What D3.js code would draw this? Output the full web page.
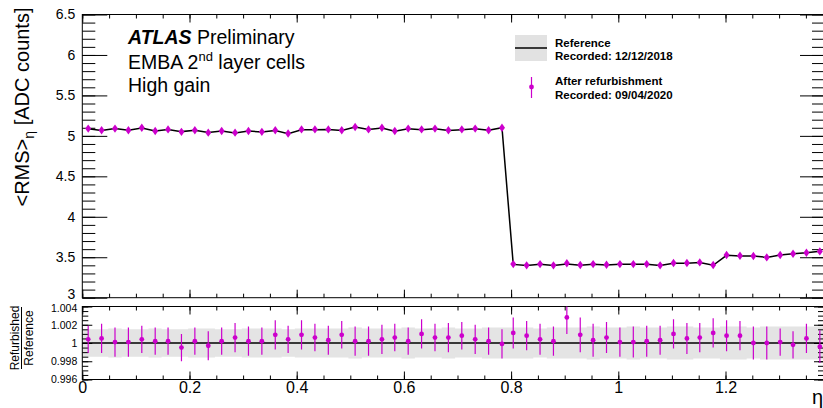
<!DOCTYPE html>
<html>
<head>
<meta charset="utf-8">
<script src="https://cdn.jsdelivr.net/npm/d3@7"></script>
<style>
  body { margin: 0; background: #fff; }
  text { font-family: "Liberation Sans", Arial, sans-serif; }
</style>
</head>
<body>
<svg id="chart" width="823" height="408"></svg>
<script>
// eta bin centres (EMBA 2nd layer)
var etaBins = [0.011,0.036,0.061,0.086,0.111,0.136,0.160,0.185,0.210,0.235,0.260,0.285,0.310,0.335,0.360,0.384,
  0.409,0.434,0.459,0.484,0.509,0.534,0.559,0.583,0.608,0.633,0.658,0.683,0.708,0.733,0.758,0.783,
  0.804,0.829,0.854,0.879,0.904,0.929,0.953,0.978,1.003,1.028,1.053,1.078,
  1.103,1.128,1.152,1.177,1.202,1.227,1.252,1.277,1.302,1.326,1.351,1.376];

// <RMS> after refurbishment (ADC counts)
var rmsAfter = [5.09,5.07,5.09,5.07,5.10,5.06,5.08,5.05,5.07,5.04,5.06,5.04,5.06,5.05,5.07,5.03,
  5.08,5.08,5.08,5.07,5.11,5.08,5.10,5.06,5.09,5.08,5.09,5.07,5.08,5.09,5.07,5.10,
  3.415,3.400,3.415,3.400,3.425,3.405,3.415,3.407,3.415,3.415,3.415,3.400,
  3.428,3.428,3.436,3.405,3.527,3.519,3.515,3.498,3.527,3.543,3.556,3.572];

// refurbished / reference
var ratio = [1.0004,1.0005,1.0001,1.0001,1.0004,1.0002,1.0002,0.9995,1.0002,0.9997,1.0002,1.0006,1.0002,1.0002,1.0009,1.0004,
  1.0009,1.0006,1.0003,1.0009,1.0002,1.0002,1.0004,1.0006,1.0002,1.0010,1.0006,1.0006,1.0008,1.0004,1.0002,0.9999,
  1.0011,1.0008,1.0004,1.0002,1.0028,1.0009,1.0003,1.0006,1.0001,1.0001,1.0002,1.0003,
  1.0010,1.0005,1.0006,1.0011,1.0008,1.0008,1.0000,1.0000,1.0001,0.9998,1.0005,0.9996];

var ratioErr = [0.0015,0.0016,0.0016,0.0016,0.0015,0.0015,0.0015,0.0015,0.0015,0.0016,0.0015,0.0016,0.0016,0.0015,0.0016,0.0015,
  0.0016,0.0015,0.0016,0.0015,0.0016,0.0016,0.0016,0.0015,0.0015,0.0016,0.0015,0.0016,0.0015,0.0016,0.0015,0.0016,
  0.0017,0.0016,0.0017,0.0016,0.0018,0.0019,0.0018,0.0017,0.0016,0.0017,0.0017,0.0016,
  0.0016,0.0017,0.0016,0.0016,0.0017,0.0016,0.0018,0.0018,0.0015,0.0015,0.0016,0.0018];

// relative uncertainty of the reference (grey band)
var refBand = [0.0015,0.0015,0.0016,0.0015,0.0015,0.0016,0.0015,0.0015,0.0016,0.0016,0.0015,0.0015,0.0016,0.0016,0.0016,0.0015,
  0.0016,0.0016,0.0016,0.0016,0.0017,0.0016,0.0016,0.0016,0.0017,0.0016,0.0016,0.0017,0.0016,0.0016,0.0017,0.0017,
  0.0017,0.0017,0.0016,0.0017,0.0017,0.0017,0.0018,0.0017,0.0017,0.0018,0.0017,0.0017,
  0.0018,0.0018,0.0017,0.0017,0.0018,0.0018,0.0017,0.0018,0.0018,0.0018,0.0018,0.0018];

var xTicks = [0, 0.2, 0.4, 0.6, 0.8, 1.0, 1.2];
var xTickLabels = ["0", "0.2", "0.4", "0.6", "0.8", "1", "1.2"];
var yTicks = [3, 3.5, 4, 4.5, 5, 5.5, 6, 6.5];
var yTickLabels = ["3", "3.5", "4", "4.5", "5", "5.5", "6", "6.5"];
var rTicks = [0.996, 0.998, 1.0, 1.002, 1.004];
var rTickLabels = ["0.996", "0.998", "1", "1.002", "1.004"];

var magenta = '#cc00cc';
var L = 82.3, R = 824;

var svg = d3.select('#chart');

var x = d3.scaleLinear().domain([0, (R - L) / 536]).range([L, R]);
var y = d3.scaleLinear().domain([3, 6.5]).range([297.7, 14.5]);
var yr = d3.scaleLinear().domain([0.996, 1.004]).range([379.5, 306.5]);

var xMinor = d3.range(0, 1.4, 0.05).filter(function (d) { return x(d) < R; });
var yMinor = d3.range(3, 6.5001, 0.1);
var rMinor = d3.range(0.996, 1.0040001, 0.0005);

var pts = etaBins.map(function (e, i) {
  return { eta: e, after: rmsAfter[i], ref: rmsAfter[i] / ratio[i], r: ratio[i], err: ratioErr[i], band: refBand[i] };
});

// helper: draw an axis, strip the domain path
function axisG(tx, ty, axis, fontSize) {
  var g = svg.append('g').attr('transform', 'translate(' + tx + ',' + ty + ')').call(axis);
  g.select('.domain').remove();
  g.selectAll('line').attr('stroke', '#000');
  g.selectAll('text').attr('fill', '#000').style('font-size', (fontSize || 10) + 'px')
    .style('font-family', '"Liberation Sans", Arial, sans-serif');
  return g;
}

// ---------- lower panel band (draw first) ----------
svg.append('clipPath').attr('id', 'lowclip').append('rect')
  .attr('x', L).attr('y', 306.5).attr('width', R - L).attr('height', 73);

var bandPts = [{ eta: 0, band: refBand[0] }].concat(pts).concat([{ eta: x.domain()[1], band: refBand[refBand.length - 1] }]);
svg.append('path')
  .datum(bandPts)
  .attr('clip-path', 'url(#lowclip)')
  .attr('fill', '#e4e4e4')
  .attr('d', d3.area().curve(d3.curveStep)
    .x(function (d) { return x(d.eta); })
    .y0(function (d) { return yr(1 - d.band); })
    .y1(function (d) { return yr(1 + d.band); }));

svg.append('line')
  .attr('x1', L).attr('x2', R).attr('y1', yr(1)).attr('y2', yr(1))
  .attr('stroke', '#000').attr('stroke-width', 1.5);

// ---------- frames ----------
svg.append('rect').attr('x', L).attr('y', 14.5).attr('width', R - L).attr('height', 297.7 - 14.5)
  .attr('fill', 'none').attr('stroke', '#000');
svg.append('rect').attr('x', L).attr('y', 306.5).attr('width', R - L).attr('height', 73)
  .attr('fill', 'none').attr('stroke', '#000');

// ---------- upper panel axes ----------
axisG(0, 297.7, d3.axisBottom(x).tickValues(xTicks).tickSizeInner(-8).tickSizeOuter(0).tickFormat(''));
axisG(0, 297.7, d3.axisBottom(x).tickValues(xMinor).tickSizeInner(-4).tickSizeOuter(0).tickFormat(''));
axisG(0, 14.5, d3.axisTop(x).tickValues(xTicks).tickSizeInner(-8).tickSizeOuter(0).tickFormat(''));
axisG(0, 14.5, d3.axisTop(x).tickValues(xMinor).tickSizeInner(-4).tickSizeOuter(0).tickFormat(''));

axisG(L, 0, d3.axisLeft(y).tickValues(yMinor).tickSizeInner(-13).tickSizeOuter(0).tickFormat(''));
var yAx = axisG(L, 0, d3.axisLeft(y).tickValues(yTicks).tickSizeInner(-25).tickSizeOuter(0).tickPadding(7)
  .tickFormat(function (d, i) { return yTickLabels[i]; }), 14);
// bottom label sits a little higher, as in the reference
yAx.selectAll('text').filter(function (d) { return d === 3; }).attr('y', -4);
axisG(R, 0, d3.axisRight(y).tickValues(yMinor).tickSizeInner(-12).tickSizeOuter(0).tickFormat(''));
axisG(R, 0, d3.axisRight(y).tickValues(yTicks).tickSizeInner(-24).tickSizeOuter(0).tickFormat(''));

// ---------- lower panel axes ----------
axisG(0, 379.5, d3.axisBottom(x).tickValues(xMinor).tickSizeInner(-4).tickSizeOuter(0).tickFormat(''));
axisG(0, 379.5, d3.axisBottom(x).tickValues(xTicks).tickSizeInner(-8).tickSizeOuter(0).tickPadding(2)
  .tickFormat(function (d, i) { return xTickLabels[i]; }), 16);
axisG(0, 306.5, d3.axisTop(x).tickValues(xTicks).tickSizeInner(-8).tickSizeOuter(0).tickFormat(''));
axisG(0, 306.5, d3.axisTop(x).tickValues(xMinor).tickSizeInner(-4).tickSizeOuter(0).tickFormat(''));

axisG(L, 0, d3.axisLeft(yr).tickValues(rMinor).tickSizeInner(-6).tickSizeOuter(0).tickFormat(''));
var rAx = axisG(L, 0, d3.axisLeft(yr).tickValues(rTicks).tickSizeInner(-10).tickSizeOuter(0).tickPadding(5)
  .tickFormat(function (d, i) { return rTickLabels[i]; }), 10.5);
rAx.selectAll('text').filter(function (d) { return d === 1.004; }).attr('y', 2);
axisG(R, 0, d3.axisRight(yr).tickValues(rMinor).tickSizeInner(-6).tickSizeOuter(0).tickFormat(''));
axisG(R, 0, d3.axisRight(yr).tickValues(rTicks).tickSizeInner(-10).tickSizeOuter(0).tickFormat(''));

// ---------- upper panel data ----------
svg.append('path')
  .datum(pts)
  .attr('fill', 'none').attr('stroke', '#000').attr('stroke-width', 1.5)
  .attr('d', d3.line().x(function (d) { return x(d.eta); }).y(function (d) { return y(d.ref); }));

svg.append('g').selectAll('path.dia')
  .data(pts).enter().append('path')
  .attr('class', 'dia')
  .attr('transform', function (d) { return 'translate(' + x(d.eta) + ',' + y(d.after) + ')'; })
  .attr('d', 'M0,-4.2L3,0L0,4.2L-3,0Z')
  .attr('fill', magenta);

// ---------- lower panel data ----------
var low = svg.append('g').attr('clip-path', 'url(#lowclip)');
low.selectAll('line.err')
  .data(pts).enter().append('line')
  .attr('class', 'err')
  .attr('x1', function (d) { return x(d.eta); }).attr('x2', function (d) { return x(d.eta); })
  .attr('y1', function (d) { return yr(d.r - d.err); })
  .attr('y2', function (d) { return yr(d.r + d.err); })
  .attr('stroke', magenta).attr('stroke-width', 1.2);
low.selectAll('circle')
  .data(pts).enter().append('circle')
  .attr('cx', function (d) { return x(d.eta); })
  .attr('cy', function (d) { return yr(d.r); })
  .attr('r', 2.4)
  .attr('fill', magenta);

// ---------- titles ----------
var yt = svg.append('text')
  .attr('transform', 'translate(29,107) rotate(-90)')
  .attr('text-anchor', 'middle')
  .style('font-size', '20px');
yt.append('tspan').text('<RMS>');
yt.append('tspan').attr('dy', 5).style('font-size', '14px').text('\u03b7');
yt.append('tspan').attr('dy', -5).text(' [ADC counts]');

var ft = svg.append('g').attr('transform', 'translate(0,338) rotate(-90)');
ft.append('text').attr('x', 0).attr('y', 19).attr('text-anchor', 'middle')
  .style('font-size', '12px').text('Refurbished');
ft.append('line').attr('x1', -31).attr('x2', 31).attr('y1', 21.5).attr('y2', 21.5)
  .attr('stroke', '#000').attr('stroke-width', 1);
ft.append('text').attr('x', 0).attr('y', 33).attr('text-anchor', 'middle')
  .style('font-size', '12px').text('Reference');

svg.append('text').attr('x', 823).attr('y', 404).attr('text-anchor', 'end')
  .style('font-size', '20px').text('\u03b7');

// ---------- ATLAS label ----------
var t1 = svg.append('text').attr('x', 128).attr('y', 43.5).style('font-size', '19.5px');
t1.append('tspan').style('font-weight', 'bold').style('font-style', 'italic').text('ATLAS');
t1.append('tspan').text(' Preliminary');
var t2 = svg.append('text').attr('x', 128).attr('y', 68.5).style('font-size', '19.5px');
t2.append('tspan').text('EMBA 2');
t2.append('tspan').attr('dy', -8).style('font-size', '13px').text('nd');
t2.append('tspan').attr('dy', 8).text(' layer cells');
svg.append('text').attr('x', 128).attr('y', 92).style('font-size', '19.5px').text('High gain');

// ---------- legend ----------
svg.append('rect').attr('x', 515).attr('y', 35).attr('width', 32).attr('height', 26).attr('fill', '#e2e2e2');
svg.append('line').attr('x1', 515).attr('x2', 547).attr('y1', 48).attr('y2', 48)
  .attr('stroke', '#000').attr('stroke-width', 1.5);
svg.append('line').attr('x1', 531.5).attr('x2', 531.5).attr('y1', 77).attr('y2', 98)
  .attr('stroke', magenta).attr('stroke-width', 1.2);
svg.append('circle').attr('cx', 531.5).attr('cy', 87).attr('r', 2.4).attr('fill', magenta);

var legendLines = [
  ['Reference', 46.5],
  ['Recorded: 12/12/2018', 59.5],
  ['After refurbishment', 85],
  ['Recorded: 09/04/2020', 99]
];
svg.append('g').selectAll('text').data(legendLines).enter().append('text')
  .attr('x', 555).attr('y', function (d) { return d[1]; })
  .style('font-size', '11.5px').style('font-weight', 'bold')
  .text(function (d) { return d[0]; });
</script>
</body>
</html>
